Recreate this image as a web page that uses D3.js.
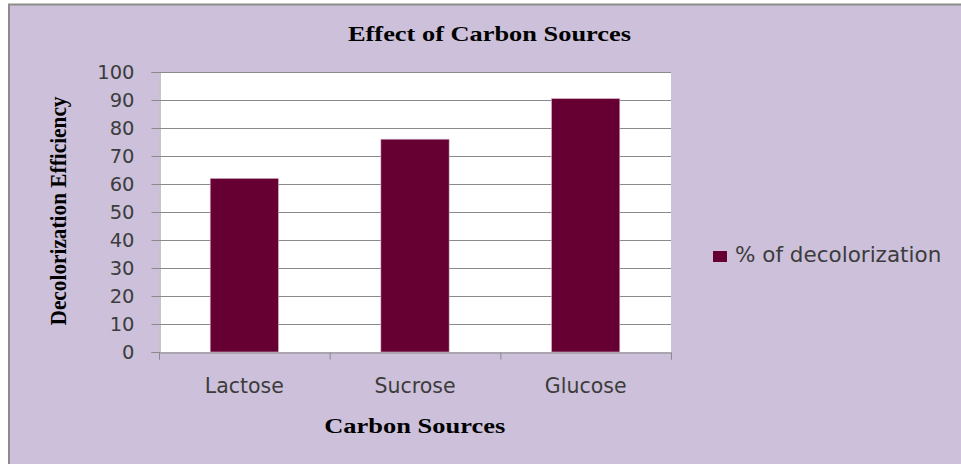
<!DOCTYPE html>
<meta charset="utf-8">
<script src="https://d3js.org/d3.v7.min.js"></script>
<style>
  body { margin: 0; background: #fff; }
  svg { display: block; }
</style>
<body>
<div id="chart"></div>
<script>
  // values
  var sources = ["Lactose", "Sucrose", "Glucose"];
  var decolorization = [62, 76, 90.5];
  var yTicks = [0, 10, 20, 30, 40, 50, 60, 70, 80, 90, 100];
  var seriesName = "% of decolorization";

  var W = 961, H = 464;
  var plot = {left: 159, right: 671, top: 72, bottom: 352};

  const svg = d3.select("#chart").append("svg")
    .attr("width", W).attr("height", H);

  // chart frame
  svg.append("rect")
    .attr("x", 9).attr("y", 4.5)
    .attr("width", W + 20).attr("height", H + 20)
    .style("fill", "#ccc0da")
    .style("stroke", "#8c8c8c")
    .style("stroke-width", 2);

  svg.append("rect")
    .attr("x", plot.left).attr("y", plot.top)
    .attr("width", plot.right - plot.left).attr("height", plot.bottom - plot.top)
    .style("fill", "#fff");

  const y = d3.scaleLinear().domain([0, 100]).range([plot.bottom, plot.top]);
  const x = d3.scaleBand().domain(sources).range([plot.left, plot.right]).padding(0);
  const xEdge = d3.scaleLinear().domain([0, sources.length]).range([plot.left, plot.right]);

  // gridlines
  svg.append("g")
    .selectAll("line")
    .data(yTicks.filter(d => d > 0))
    .join("line")
      .attr("x1", plot.left).attr("x2", plot.right)
      .attr("y1", d => Math.round(y(d)) + 0.5).attr("y2", d => Math.round(y(d)) + 0.5)
      .style("stroke", "#8a8a8a");

  // bars
  const bw = x.bandwidth();
  svg.append("g")
    .selectAll("rect")
    .data(sources)
    .join("rect")
      .attr("x", d => x(d) + bw * 0.3)
      .attr("width", bw * 0.4)
      .attr("y", (d, i) => y(decolorization[i]))
      .attr("height", (d, i) => y(0) - y(decolorization[i]))
      .style("fill", "#660033")
      .style("stroke", "#d6b4c6")
      .style("stroke-width", 0.6);

  // y axis
  const yAxis = svg.append("g")
    .attr("transform", `translate(${plot.left + 0.5},0)`)
    .call(d3.axisLeft(y).tickValues(yTicks).tickSize(8).tickPadding(17));
  yAxis.select(".domain").style("stroke", "#8a8a8a");
  yAxis.selectAll(".tick line").style("stroke", "#8a8a8a");
  yAxis.selectAll(".tick text")
    .style("font-family", "DejaVu Sans")
    .style("font-size", "19.5px")
    .style("fill", "#3c3c3c");

  // x axis: ticks on category edges
  const xTicksG = svg.append("g")
    .attr("transform", `translate(0,${plot.bottom + 0.5})`)
    .call(d3.axisBottom(xEdge).ticks(sources.length).tickFormat("").tickSize(7));
  xTicksG.select(".domain").style("stroke", "#8a8a8a");
  xTicksG.selectAll(".tick line").style("stroke", "#8a8a8a");

  const xAxis = svg.append("g")
    .attr("transform", `translate(0,${plot.bottom})`)
    .call(d3.axisBottom(x).tickSize(0).tickPadding(26));
  xAxis.select(".domain").remove();
  xAxis.selectAll(".tick text")
    .style("font-family", "DejaVu Sans")
    .style("font-size", "20.5px")
    .style("fill", "#3c3c3c");

  // titles
  svg.append("text")
    .attr("x", 489.5).attr("y", 41)
    .attr("text-anchor", "middle")
    .attr("textLength", 283).attr("lengthAdjust", "spacingAndGlyphs")
    .style("font-family", "Liberation Serif").style("font-weight", "bold")
    .style("font-size", "21px")
    .text("Effect of Carbon Sources");

  svg.append("text")
    .attr("x", 414.7).attr("y", 432.5)
    .attr("text-anchor", "middle")
    .attr("textLength", 181).attr("lengthAdjust", "spacingAndGlyphs")
    .style("font-family", "Liberation Serif").style("font-weight", "bold")
    .style("font-size", "20px")
    .text("Carbon Sources");

  svg.append("text")
    .attr("transform", "translate(66,211) rotate(-90)")
    .attr("text-anchor", "middle")
    .attr("textLength", 229).attr("lengthAdjust", "spacingAndGlyphs")
    .style("font-family", "Liberation Serif").style("font-weight", "bold")
    .style("font-size", "23px")
    .text("Decolorization Efficiency");

  // legend
  const legend = svg.append("g").attr("transform", "translate(713,251)");
  legend.append("rect")
    .attr("width", 14).attr("height", 11)
    .style("fill", "#660033");
  legend.append("text")
    .attr("x", 22).attr("y", 11)
    .style("font-family", "DejaVu Sans")
    .style("font-size", "21.5px")
    .style("fill", "#3c3c3c")
    .text(seriesName);
</script>
</body>
